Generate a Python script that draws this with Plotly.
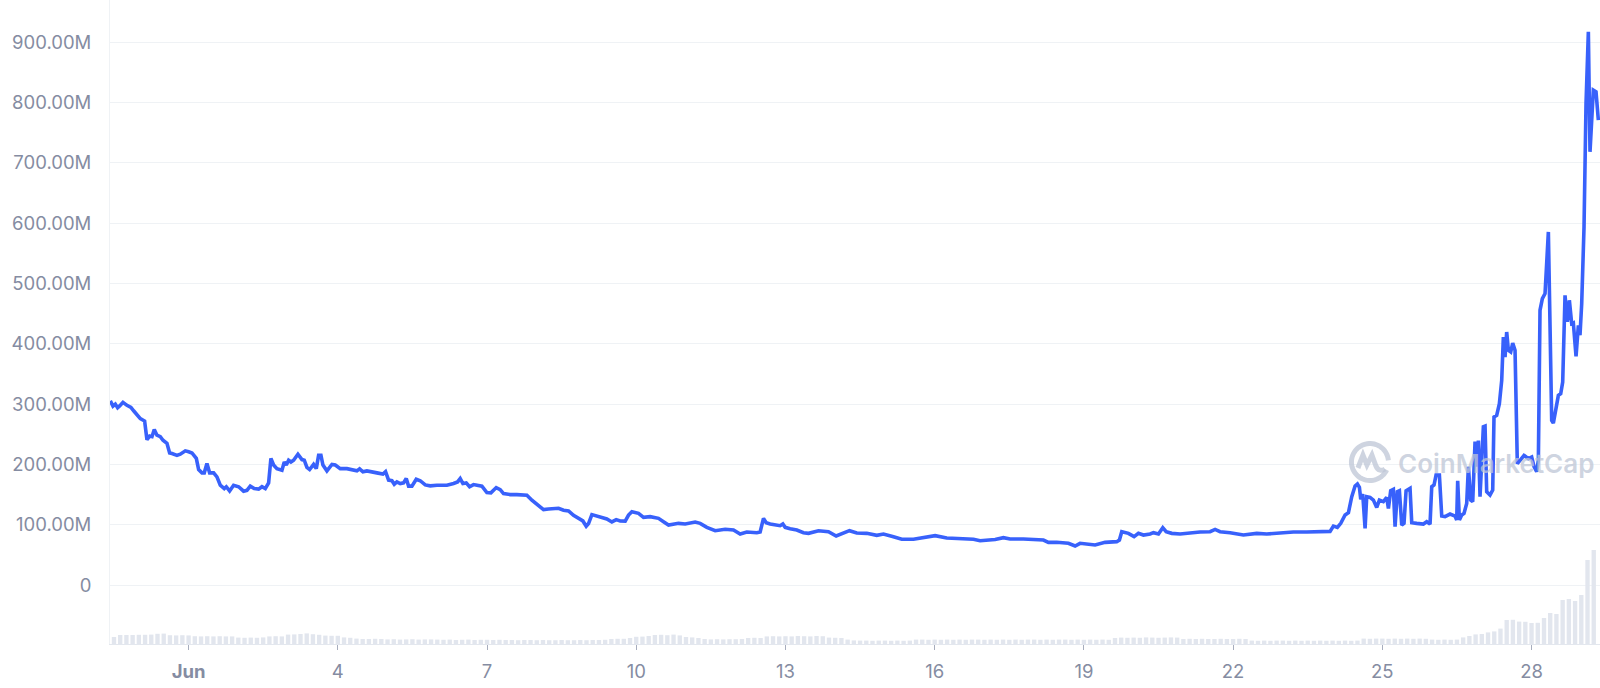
import math
import pandas as pd
import plotly.graph_objects as go

# ---------------- data ----------------
# fractional day-of-June (1.0 = Jun 1 00:00) and market value in millions
line_days = [
    -0.574, -0.52, -0.473, -0.427, -0.386, -0.319, -0.239, -0.159, -0.105, -0.038,
    0.029, 0.116, 0.163, 0.217, 0.264, 0.310, 0.364, 0.431, 0.485, 0.565,
    0.619, 0.666, 0.766, 0.833, 0.934, 1.001, 1.068, 1.155, 1.202, 1.269,
    1.315, 1.369, 1.423, 1.503, 1.570, 1.637, 1.717, 1.758, 1.825, 1.905,
    2.006, 2.106, 2.173, 2.240, 2.320, 2.408, 2.475, 2.542, 2.609, 2.655,
    2.709, 2.776, 2.877, 2.924, 2.964, 3.011, 3.058, 3.111, 3.198, 3.279,
    3.326, 3.379, 3.433, 3.513, 3.567, 3.614, 3.661, 3.701, 3.781, 3.882,
    3.949, 4.049, 4.183, 4.384, 4.438, 4.505, 4.585, 4.786, 4.907, 4.960,
    5.021, 5.088, 5.135, 5.188, 5.255, 5.322, 5.376, 5.423, 5.490, 5.577,
    5.657, 5.758, 5.858, 5.992, 6.193, 6.327, 6.408, 6.461, 6.515, 6.582,
    6.649, 6.729, 6.897, 6.997, 7.078, 7.185, 7.265, 7.332, 7.466, 7.600,
    7.801, 7.902, 8.002, 8.136, 8.237, 8.438, 8.538, 8.639, 8.739, 8.873,
    8.927, 8.994, 9.041, 9.108, 9.208, 9.275, 9.409, 9.510, 9.597, 9.677,
    9.778, 9.845, 9.912, 10.046, 10.146, 10.280, 10.448, 10.548, 10.649, 10.850,
    10.984, 11.185, 11.285, 11.419, 11.587, 11.788, 11.955, 12.089, 12.223, 12.424,
    12.491, 12.558, 12.612, 12.692, 12.893, 12.947, 12.994, 13.094, 13.228, 13.362,
    13.463, 13.664, 13.865, 14.019, 14.166, 14.287, 14.434, 14.635, 14.836, 14.970,
    15.171, 15.339, 15.573, 15.808, 16.009, 16.243, 16.511, 16.779,
    16.913, 17.047, 17.215, 17.382, 17.516, 17.784, 17.985, 18.186, 18.286, 18.454,
    18.689, 18.823, 18.923, 19.057, 19.225, 19.426, 19.660, 19.714, 19.761, 19.895,
    20.009, 20.096,
    20.197, 20.331, 20.398, 20.499, 20.586, 20.653, 20.767, 20.934, 21.135, 21.336,
    21.537, 21.638, 21.738, 21.939, 22.207, 22.475, 22.676, 22.944, 23.212, 23.480,
    23.681, 23.949, 24.016, 24.096, 24.164, 24.251, 24.318, 24.385, 24.452, 24.499,
    24.539, 24.566, 24.606, 24.653, 24.686, 24.753, 24.820, 24.887, 24.941,
    25.021, 25.088, 25.122, 25.168, 25.222, 25.256, 25.302, 25.343, 25.390, 25.436,
    25.477, 25.557, 25.591, 25.691, 25.825, 25.892, 25.959, 25.993, 26.039, 26.080,
    26.147, 26.194, 26.261, 26.361, 26.462, 26.495, 26.515, 26.549, 26.596, 26.642,
    26.696, 26.730, 26.776, 26.817, 26.864, 26.897, 26.931, 26.964, 26.998, 27.031,
    27.065, 27.098, 27.165, 27.219, 27.245, 27.299, 27.353, 27.400, 27.433, 27.467,
    27.500, 27.534, 27.581, 27.621, 27.668, 27.714, 27.768, 27.848, 27.936, 28.003,
    28.050, 28.103, 28.137, 28.170, 28.217, 28.271, 28.338, 28.405, 28.438, 28.492,
    28.539, 28.586, 28.626, 28.673, 28.720, 28.760, 28.807, 28.840, 28.894, 28.941,
    28.974, 29.008, 29.055, 29.095, 29.142, 29.175, 29.209, 29.242, 29.296, 29.343,
]
line_vals = [
    305.5, 296.7, 300, 294, 297, 303, 298, 294.5, 289, 283,
    276, 272, 241, 247, 246, 258, 248.5, 246, 240, 235,
    219, 218, 215, 217, 222.5, 221, 219, 210, 191.5, 186,
    186, 201.5, 186, 186, 179.4, 165.5, 160, 163, 156, 165.5,
    163, 155.6, 157, 164, 160, 159, 163, 160, 169.4, 210,
    199, 193, 190.4, 204, 199, 207, 204, 207, 217, 208,
    207, 195, 191.5, 200, 193, 215, 215, 199, 189.3, 200,
    199, 193, 193, 189.3, 192.6, 187.7, 189.3, 186, 184, 188,
    174, 173, 167.2, 171, 168.3, 169.4, 176.6, 164, 164, 175.5,
    173, 166, 164.4, 165.5, 165.5, 168.3, 171, 176.6, 168.3, 169.4,
    163, 166.6, 164, 153.4, 152.8, 161.6, 158.3, 151.7, 150, 150,
    149, 140.6, 134, 125, 126.2, 127.3, 124, 123, 115.7, 108.5,
    106.3, 97.5, 102, 116.8, 114, 111.8, 109.6, 104.6, 108.5, 106.3,
    106.1, 116.1, 121.6, 118.9, 112.3, 113.4, 110.6, 105, 99.5, 102.3,
    101.2, 104.5, 102.3, 95.7, 90.1, 92.4, 91.3, 84.6, 87.9, 86.8,
    88, 110.6, 103.3, 101.2, 98.4, 101.2, 95.7, 93.5, 91.3, 86.8,
    85.7, 90.1, 88.4, 81.3, 86.8, 90.1, 86.2, 85.7, 82.4, 84.6,
    80.1, 75.8, 75.8, 78.6, 81.9, 78, 76.4, 75.8,
    73.5, 74.6, 75.6, 78.6, 76.4, 76.4, 75.6, 74.6, 70.8, 70.8,
    69.2, 64.7, 69.2, 68.1, 66.4, 70.8, 71.9, 74.6, 88.4, 85.7,
    80.2, 85.7,
    82.9, 84.6, 86.8, 84.6, 95.1, 88.4, 85.7, 84.6, 86.8, 87.9,
    88.4, 92.2, 88.4, 86.8, 82.9, 85.7, 84.6, 86.8, 87.9, 87.9,
    89, 89, 97.8, 95.6, 102.3, 116.1, 120, 146.4, 164.2, 167.5,
    162, 142, 150.8, 94, 146.4, 145.3, 140.9, 128.7, 140.9,
    138.2, 145.3, 127, 156.4, 158.6, 96.7, 154.8, 156.4, 99.5, 102.2,
    156.4, 160.3, 103.3, 102.2, 101.1, 105, 101.1, 163.1, 165.8, 182.4,
    182.4, 114.4, 113.3, 117.7, 114.4, 107.8, 173, 107.8, 116.1, 118.8,
    135.4, 196.2, 141, 138.2, 237.7, 196.2, 239.4, 146.4, 223.9, 262.6,
    263.7, 154.8, 149.2, 157.5, 278.6, 281.4, 300.7, 339.4, 411.3, 378.1,
    419.6, 389.2, 386.4, 401.3, 389.2, 201.2, 206.7, 215, 209.5, 212.3,
    196.2, 187.9, 206.7, 455.6, 475, 483.3, 585.6, 273, 268.6, 295.1,
    314.5, 317.3, 336.6, 480.5, 436.3, 472.2, 433.5, 434.6, 379.3, 430.8,
    414.2, 466.7, 593.9, 798.5, 917.4, 718.4, 770.9, 820.6, 817.9, 770.9,
]

# 3-hourly volume (millions), starting 2021-05-30 12:00
vol_start = "2021-05-30 12:00"
volume = [
    35, 45, 45, 45,                                  # May 30
    46, 46, 47, 51, 52, 44, 43, 44,                  # May 31
    43, 39, 38, 39, 38, 39, 38, 38,                  # Jun 1
    32, 31, 32, 31, 33, 38, 39, 38,                  # Jun 2
    47, 48, 50, 53, 49, 46, 42, 41,                  # Jun 3
    41, 33, 31, 27, 25, 25, 26, 25,                  # Jun 4
    23, 24, 22, 23, 24, 22, 23, 23,                  # Jun 5
    22, 21, 22, 20, 21, 22, 20, 21,                  # Jun 6
    21, 20, 21, 20, 20, 19, 20, 20,                  # Jun 7
    19, 20, 19, 19, 20, 19, 19, 20,                  # Jun 8
    19, 20, 20, 21, 25, 26, 26, 30,                  # Jun 9
    36, 37, 40, 45, 46, 44, 47, 43,                  # Jun 10
    35, 33, 30, 25, 23, 24, 23, 24,                  # Jun 11
    24, 25, 30, 31, 30, 38, 39, 38,                  # Jun 12
    39, 38, 40, 39, 38, 40, 39, 32,                  # Jun 13
    31, 30, 22, 18, 17, 17, 16, 17,                  # Jun 14
    17, 16, 17, 16, 17, 22, 22, 21,                  # Jun 15
    22, 21, 22, 21, 22, 21, 22, 22,                  # Jun 16
    21, 22, 21, 22, 21, 22, 21, 22,                  # Jun 17
    22, 21, 22, 21, 22, 22, 21, 22,                  # Jun 18
    21, 22, 21, 22, 21, 30, 32, 31,                  # Jun 19
    32, 31, 33, 32, 31, 32, 33, 32,                  # Jun 20
    25, 26, 25, 26, 25, 25, 26, 25,                  # Jun 21
    25, 26, 25, 17, 16, 17, 16, 17,                  # Jun 22
    17, 16, 17, 16, 17, 16, 17, 16,                  # Jun 23
    17, 16, 17, 16, 17, 27, 26, 27,                  # Jun 24
    27, 26, 27, 26, 27, 26, 27, 26,                  # Jun 25
    22, 21, 22, 21, 22, 33, 40, 48,                  # Jun 26
    50, 58, 63, 77, 120, 121, 112, 111,              # Jun 27
    105, 106, 130, 155, 150, 220, 225, 215,          # Jun 28
    245, 420, 470,                                   # Jun 29
]

tick_days = [1, 4, 7, 10, 13, 16, 19, 22, 25, 28]
tick_text = ["<b>Jun</b>", "4", "7", "10", "13", "16", "19", "22", "25", "28"]
y_ticks = [0, 100, 200, 300, 400, 500, 600, 700, 800, 900]
y_text = ["0"] + [f"{v:.2f}M" for v in y_ticks[1:]]

# ---------------- build ----------------
base = pd.Timestamp("2021-05-31")
line_x = base + pd.to_timedelta(line_days, unit="D")
vol_x = pd.date_range(vol_start, periods=len(volume), freq="3h")
tick_x = base + pd.to_timedelta(tick_days, unit="D")
x_range = [base + pd.Timedelta(days=-0.580), base + pd.Timedelta(days=29.376)]

grey = "#858CA2"
fig = go.Figure()
fig.add_trace(go.Bar(x=vol_x, y=volume, yaxis="y2",
                     marker=dict(color="#e2e6ee", line=dict(width=0)),
                     hoverinfo="skip"))
fig.add_trace(go.Scatter(x=line_x, y=line_vals, mode="lines",
                         line=dict(color="#3861FB", width=3.6)))

# watermark logo (ring + wave), drawn in pixel units
cx, cy, r = 0.8456, 0.2826, 18.5
pts = []
for i in range(0, 61):
    a = math.radians(-25 - i * 5.5)
    pts.append((r * math.cos(a), r * math.sin(a)))
ring = "M " + " L ".join(f"{px:.2f},{py:.2f}" for px, py in pts)
wave = "M -12,-6 L -7,7 L -3,-3 L 2,7 L 6,-4 C 8,-9 12,-9 15,-7"

wm_col = "rgba(190,198,214,0.75)"
fig.update_layout(
    width=1600, height=688,
    margin=dict(l=110, r=0, t=0, b=44),
    paper_bgcolor="white", plot_bgcolor="white",
    showlegend=False, bargap=0.3,
    font=dict(family="Inter, sans-serif", color=grey, size=18.5),
    xaxis=dict(type="date", range=x_range, tickvals=tick_x, ticktext=tick_text,
               showgrid=False, showline=True, linecolor="#e3e7ee", linewidth=1,
               ticks="outside", ticklen=5, tickcolor="#a7adbd", tickwidth=1,
               tickfont=dict(size=18.5, color=grey), zeroline=False,
               ticklabelstandoff=6),
    yaxis=dict(range=[-97.8, 970.2], tickvals=y_ticks, ticktext=y_text,
               showgrid=True, gridcolor="#eff2f5", gridwidth=1,
               showline=True, linecolor="#eff2f5", linewidth=1,
               zeroline=False, ticks="", tickfont=dict(size=18.5, color=grey),
               ticklabelstandoff=14),
    yaxis2=dict(range=[0, 3220], overlaying="y", visible=False),
    shapes=[
        dict(type="path", xref="paper", yref="paper", xsizemode="pixel",
             ysizemode="pixel", xanchor=cx, yanchor=cy, path=ring,
             line=dict(color=wm_col, width=5)),
        dict(type="path", xref="paper", yref="paper", xsizemode="pixel",
             ysizemode="pixel", xanchor=cx, yanchor=cy, path=wave,
             line=dict(color=wm_col, width=5)),
    ],
    annotations=[
        dict(text="CoinMarketCap", xref="paper", yref="paper",
             x=0.9305, y=0.281, xanchor="center", yanchor="middle",
             showarrow=False,
             font=dict(size=26, color=wm_col, family="Inter, sans-serif",
                       weight=600)),
    ],
)

fig.write_html("out.html",
               config={"displayModeBar": False},
               post_script="document.body.style.margin='0';"
                           "document.body.style.overflow='hidden';")
